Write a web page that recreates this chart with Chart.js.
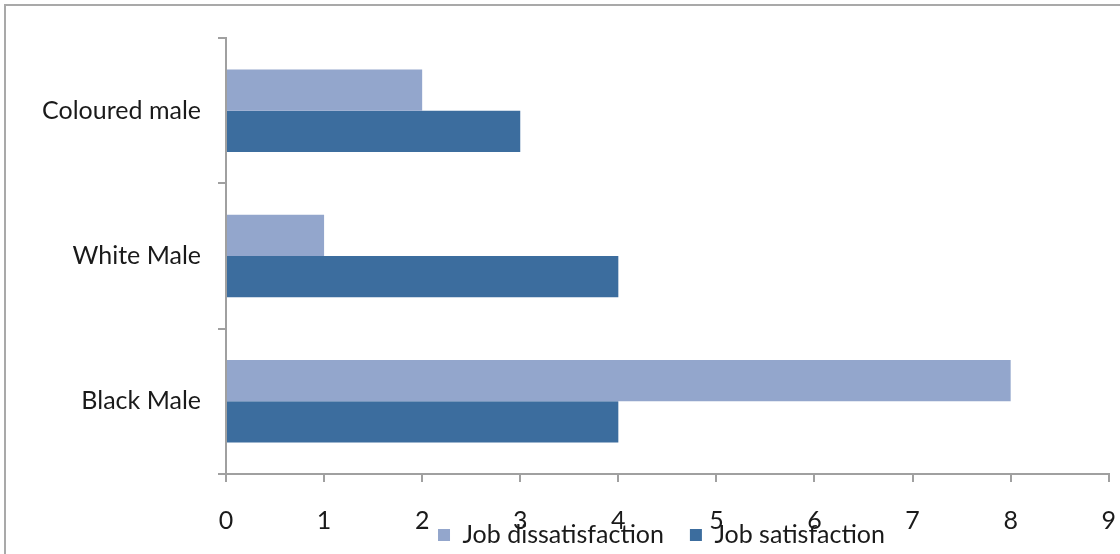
<!DOCTYPE html>
<html><head><meta charset="utf-8">
<script src="https://cdn.jsdelivr.net/npm/chart.js@4.4.0/dist/chart.umd.min.js"></script>
<style>
html,body{margin:0;padding:0;background:#fff;overflow:hidden;}
#wrap{position:relative;width:1120px;height:554px;overflow:hidden;}
#frame{position:absolute;left:4px;top:4px;width:1300px;height:800px;border:2px solid #a9a9a9;box-sizing:border-box;}
canvas{position:absolute;left:0;top:0;}
</style></head>
<body><div id="wrap"><div id="frame"></div><canvas id="c" width="1120" height="554" style="width:1120px;height:554px"></canvas></div>
<script>
const categories = ['Coloured male', 'White Male', 'Black Male'];
const seriesNames = ['Job dissatisfaction', 'Job satisfaction'];
const dissatisfaction = [2, 1, 8];
const satisfaction = [3, 4, 4];
const xTickValues = [0, 1, 2, 3, 4, 5, 6, 7, 8, 9];

const FAMILY = 'Lato, "Open Sans", sans-serif';
const TEXT = '#1a1a1a';
const AXIS = '#a0a0a0';

const layoutFix = {
  id: 'layoutFix',
  afterLayout(chart) {
    const lg = chart.legend;
    const pad = lg.options.labels.padding;
    const fs = lg.options.labels.font.size;
    const h = lg.bottom - lg.top;
    lg.top = 535 - pad - fs / 2;
    lg.bottom = lg.top + h;
    lg.left = 203;
    lg.right = 1120;
    lg.width = lg.right - lg.left;
    const xs = chart.scales.x;
    xs.bottom = 554;
    xs.height = xs.bottom - xs.top;
  }
};

new Chart(document.getElementById('c'), {
  type: 'bar',
  data: {
    labels: categories,
    datasets: [
      {label: seriesNames[0], data: dissatisfaction, backgroundColor: '#93a6cc', borderWidth: 0},
      {label: seriesNames[1], data: satisfaction, backgroundColor: '#3c6d9e', borderWidth: 0}
    ]
  },
  options: {
    indexAxis: 'y',
    responsive: false,
    animation: false,
    devicePixelRatio: 1,
    datasets: {bar: {categoryPercentage: 0.568, barPercentage: 1.0}},
    layout: {padding: {top: 38, right: 11, left: 0, bottom: 0}},
    plugins: {
      tooltip: {enabled: false},
      title: {display: false},
      legend: {
        position: 'bottom',
        labels: {
          font: {family: FAMILY, size: 25}, color: TEXT, boxWidth: 12, boxHeight: 12, padding: 26
        }
      }
    },
    scales: {
      x: {
        type: 'linear', min: 0, max: 9,
        afterBuildTicks(s) { s.ticks = xTickValues.map(v => ({value: v})); },
        afterFit(s) { s.height = 554 - 474 - s.chart.legend.height; },
        grid: {display: true, drawOnChartArea: false, drawTicks: true, tickLength: 8, color: AXIS, lineWidth: 2},
        border: {display: true, color: AXIS, width: 2},
        ticks: {font: {family: FAMILY, size: 25, lineHeight: '70px'}, color: TEXT, padding: 4, maxRotation: 0}
      },
      y: {
        afterFit(s) { s.width = 226; },
        grid: {display: true, drawOnChartArea: false, drawTicks: true, tickLength: 8, color: AXIS, lineWidth: 2, offset: true},
        border: {display: true, color: AXIS, width: 2},
        ticks: {font: {family: FAMILY, size: 25}, color: TEXT, padding: 17}
      }
    }
  },
  plugins: [layoutFix]
});
</script>
</body></html>
